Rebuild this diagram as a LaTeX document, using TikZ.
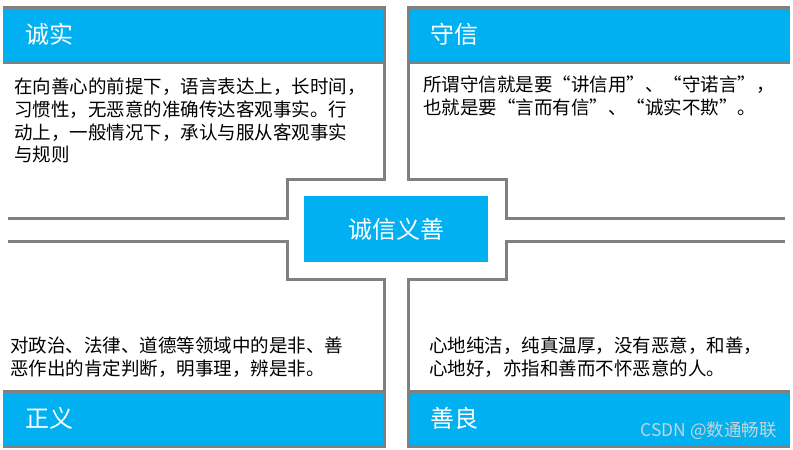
\documentclass[tikz,border=0pt]{standalone}
\usepackage{fontspec}
\setmainfont{Noto Sans CJK SC}
\usepackage{xcolor}
\usepackage{tikz}
\usetikzlibrary{positioning}
\definecolor{skyblue}{RGB}{0,176,240}
\definecolor{framegray}{RGB}{128,128,128}
\definecolor{markgray}{RGB}{200,210,215}

\begin{document}
\begin{tikzpicture}[x=1pt,y=-1pt,
  head/.style={fill=skyblue,anchor=north west,minimum height=55pt,inner xsep=22pt,inner ysep=0pt,align=left,text=white,font=\fontsize{24}{28}\selectfont},
  body/.style={anchor=north west,inner sep=0pt,align=left,font=\fontsize{18.5}{22.7}\selectfont},
  frame/.style={draw=framegray,line width=3pt}]
\useasboundingbox (0,0) rectangle (793,450);
\node[head,text width=337pt] (honH) at (3,7) {诚实};
\node[head,text width=338pt] (trustH) at (408,7) {守信};
\node[head,text width=337pt] (justH) at (3,391) {正义};
\node[head,text width=338pt] (kindH) at (408,391) {善良};
\draw[frame] (3,7)--(384,7)--(384,179)--(287,179)--(287,218)--(8,218);
\draw[frame] (3,62)--(384,62);
\draw[frame] (790,7)--(408,7)--(408,179)--(506,179)--(506,218)--(785,218);
\draw[frame] (408,62)--(790,62);
\draw[frame] (8,241)--(287,241)--(287,279)--(384,279)--(384,446)--(3,446);
\draw[frame] (3,391)--(384,391);
\draw[frame] (785,241)--(506,241)--(506,279)--(408,279)--(408,446)--(790,446);
\draw[frame] (408,391)--(790,391);
\node[fill=skyblue,minimum width=184pt,minimum height=66pt,text=white,font=\fontsize{24}{28}\selectfont] (core) at (396,229) {诚信义善};
\node[body] (honB) at (14,78) {在向善心的前提下，语言表达上，长时间，\\习惯性，无恶意的准确传达客观事实。行\\动上，一般情况下，承认与服从客观事实\\与规则};
\node[body] (trustB) at (423,76) {所谓守信就是要“讲信用”、“守诺言”，\\也就是要“言而有信”、“诚实不欺”。};
\node[body] (justB) at (10,337) {对政治、法律、道德等领域中的是非、善\\恶作出的肯定判断，明事理，辨是非。};
\node[body] (kindB) at (429,337) {心地纯洁，纯真温厚，没有恶意，和善，\\心地好，亦指和善而不怀恶意的人。};
\node[anchor=east,inner sep=0pt,text=markgray,font=\fontsize{17.5}{20}\selectfont] (mark) at (777,431) {CSDN @数通畅联};
\end{tikzpicture}
\end{document}
